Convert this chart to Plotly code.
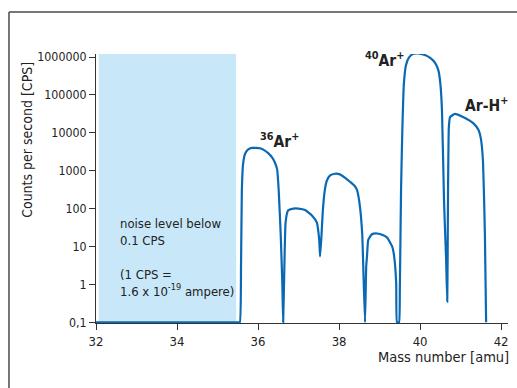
import plotly.graph_objects as go

# Spectrum trace (mass number [amu], counts per second)
mass = [32.0, 34.0, 35.50, 35.55, 35.58, 35.60, 35.63, 35.68, 35.75, 35.85, 35.95, 36.05, 36.15, 36.25, 36.35, 36.42, 36.47,
        36.51, 36.56, 36.60, 36.62,
        36.65, 36.68, 36.74, 36.87, 37.0, 37.16, 37.33, 37.45, 37.51, 37.53,
        37.56, 37.60, 37.65, 37.70, 37.78, 37.90, 38.02, 38.15, 38.27, 38.38, 38.44, 38.50, 38.57, 38.64,
        38.67, 38.69, 38.72, 38.81, 38.94, 39.08, 39.19, 39.31, 39.36, 39.41, 39.43,
        39.48, 39.50, 39.53, 39.56, 39.60, 39.65, 39.72, 39.82, 39.95, 40.10, 40.25, 40.37, 40.45, 40.50, 40.54, 40.59,
        40.62, 40.64, 40.67,
        40.68, 40.69, 40.71, 40.74, 40.86, 41.06, 41.31, 41.44, 41.50, 41.55, 41.58, 41.60, 41.63]
cps = [0.1, 0.1, 0.1, 0.1, 3, 300, 1500, 2800, 3600, 4000, 4000, 3900, 3500, 2900, 2200, 1600, 1100,
       300, 20, 1, 0.1,
       3, 43, 89, 100, 100, 92, 66, 43, 15, 5.5,
       15, 90, 316, 550, 750, 830, 800, 650, 510, 400, 316, 150, 23, 0.1,
       3, 5.5, 15, 21, 22, 20, 17, 10, 5.5, 1.1, 0.1,
       0.1, 0.74, 316, 10000, 200000, 600000, 950000, 1200000, 1250000, 1150000, 950000, 700000, 450000, 200000, 40000, 174,
       20, 5.5, 0.35,
       5.5, 316, 14000, 26000, 31600, 26000, 18000, 12000, 7000, 2000, 174, 20, 0.1]

noise_region = [32.07, 35.46]  # shaded band (amu)

y_tickvals = [0.1, 1, 10, 100, 1000, 10000, 100000, 1000000]
y_ticktext = ["0,1", "1", "10", "100", "1000", "10000", "100000", "1000000"]
x_tickvals = [32, 34, 36, 38, 40, 42]

FONT = "Liberation Sans Narrow, Arial Narrow, DejaVu Sans Condensed, sans-serif"
BLUE = "#0a69b4"

fig = go.Figure()
fig.add_shape(type="rect", xref="x", yref="paper", x0=noise_region[0], x1=noise_region[1], y0=0, y1=1,
              fillcolor="#c8e8f9", line_width=0, layer="below")
fig.add_trace(go.Scatter(x=mass, y=cps, mode="lines",
                         line=dict(color=BLUE, width=2.2, shape="spline", smoothing=0.4),
                         hoverinfo="skip", showlegend=False))

# frame lines (top and left)
fig.add_shape(type="line", xref="paper", yref="paper", x0=-0.2112, x1=1.03, y0=1.156, y1=1.156,
              line=dict(color="#4a4a4a", width=1.5))
fig.add_shape(type="line", xref="paper", yref="paper", x0=-0.2112, x1=-0.2112, y0=1.156, y1=-0.25,
              line=dict(color="#4a4a4a", width=1.5))

fig.update_layout(
    width=517, height=388,
    margin=dict(l=96, r=9, t=54, b=65),
    paper_bgcolor="white", plot_bgcolor="white",
    font=dict(family=FONT, size=13, color="#222"),
    xaxis=dict(range=[32, 42.17], tickvals=x_tickvals, ticks="outside", ticklen=6, tickcolor="#333",
               showline=True, linecolor="#333", linewidth=1, showgrid=False, zeroline=False,
               layer="below traces", tickfont=dict(size=13)),
    yaxis=dict(type="log", range=[-1.02, 6.08], tickvals=y_tickvals, ticktext=y_ticktext, ticks="outside",
               ticklen=6, tickcolor="#333", showline=True, linecolor="#333", linewidth=1,
               showgrid=False, zeroline=False, layer="below traces", tickfont=dict(size=12.3)),
)

annos = [
    dict(text="Counts per second [CPS]", xref="paper", yref="paper", x=-0.168, y=0.68, textangle=-90,
         font=dict(size=14), showarrow=False, xanchor="center", yanchor="middle"),
    dict(text="Mass number [amu]", xref="paper", yref="paper", x=1.008, y=-0.128,
         font=dict(size=14.5), showarrow=False, xanchor="right", yanchor="middle"),
    dict(text="noise level below<br>0.1 CPS<br> <br>(1 CPS =<br>1.6 x 10<sup>-19</sup> ampere)",
         xref="x", yref="paper", x=32.55, y=0.245, align="left", font=dict(size=13),
         showarrow=False, xanchor="left", yanchor="middle"),
    dict(text="<b><sup>36</sup>Ar<sup>+</sup></b>", xref="x", yref="y", x=36.52, y=3.79,
         font=dict(size=15.5), showarrow=False),
    dict(text="<b><sup>40</sup>Ar<sup>+</sup></b>", xref="x", yref="y", x=39.13, y=5.94,
         font=dict(size=15.5), showarrow=False),
    dict(text="<b>Ar-H<sup>+</sup></b>", xref="x", yref="y", x=41.64, y=4.76,
         font=dict(size=15.5), showarrow=False),
]
fig.update_layout(annotations=annos)

fig.write_html("out.html")
